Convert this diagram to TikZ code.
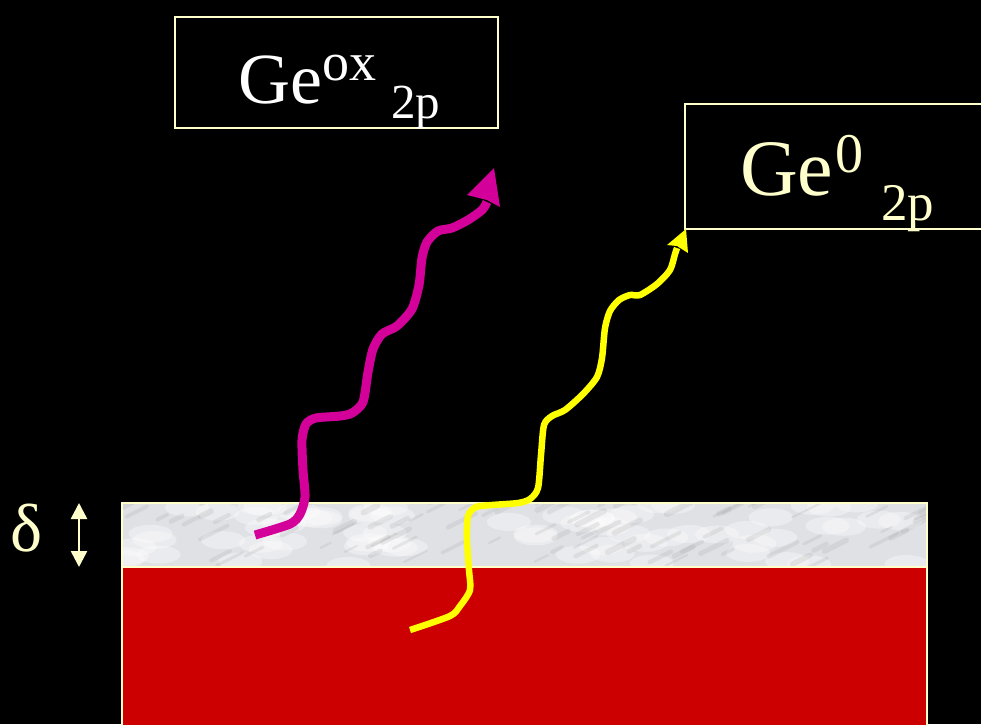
\documentclass[tikz,border=0pt]{standalone}
\usepackage{fontspec}
\setmainfont{Liberation Serif}
\usetikzlibrary{arrows.meta}
\definecolor{cream}{HTML}{FFFFCC}
\definecolor{magentaw}{HTML}{D4009A}
\definecolor{yelw}{HTML}{FFFF00}
\definecolor{redsub}{HTML}{CC0000}
\definecolor{marble}{HTML}{DFE1E5}
\tikzset{
  labelbox/.style={draw=cream, line width=2.5pt},
  wave/.style={line width=#1, line cap=butt, line join=round},
}
\begin{document}
\begin{tikzpicture}[x=1pt,y=-1pt]
\useasboundingbox (0,0) rectangle (981,724);
\fill[black] (0,0) rectangle (981,724);
\clip (0,0) rectangle (981,724);

% substrate
\fill[redsub] (122,567) rectangle (927,730);
\fill[marble] (122,503) rectangle (927,567);
\begin{scope}
  \clip (122,503) rectangle (927,567);
  \pgfmathsetseed{11}
  \foreach \i in {1,...,70}{
    \pgfmathsetmacro{\xx}{122+805*rnd}
    \pgfmathsetmacro{\yy}{503+64*rnd}
    \fill[white, opacity=0.35] (\xx,\yy) ellipse (22 and 9);
  }
  \foreach \i in {1,...,90}{
    \pgfmathsetmacro{\xx}{122+805*rnd}
    \pgfmathsetmacro{\yy}{503+64*rnd}
    \pgfmathsetmacro{\ll}{10+20*rnd}
    \pgfmathsetmacro{\ww}{2+4*rnd}
    \draw[gray!80, opacity=0.18, line width=\ww pt, line cap=round]
      (\xx,\yy) -- ++(\ll,-0.5*\ll);
  }
\end{scope}
\draw[cream, line width=2.5pt] (122,503) rectangle (927,567);
\draw[cream, line width=2.5pt] (122,567) -- (122,730) (927,567) -- (927,730);

% delta
\node[anchor=base west, text=cream, inner sep=0pt, font=\fontsize{68}{68}\selectfont] (delta) at (10,551) {δ};
\coordinate (dtop) at (79,503);
\coordinate (dbot) at (79,567);
\draw[cream, line width=2.5pt, {Triangle[length=16pt,width=16pt]}-{Triangle[length=16pt,width=16pt]}] (dtop) -- (dbot);

% boxes
\draw[labelbox] (175,17) rectangle (498,128);
\node[anchor=base west, inner sep=0pt, text=white] (geox) at (238,103)
  {\fontsize{72}{72}\selectfont Ge\raisebox{23pt}{\fontsize{54}{54}\selectfont ox}\hspace{15pt}\raisebox{-15pt}{\fontsize{49}{49}\selectfont 2p}};

\draw[labelbox] (685,104) rectangle (995,229);
\coordinate (box2corner) at (686,229);
\node[anchor=base west, inner sep=0pt, text=cream] (ge0) at (740,195)
  {\fontsize{80}{80}\selectfont Ge\hspace{2pt}\raisebox{23pt}{\fontsize{56}{56}\selectfont 0}\hspace{18pt}\raisebox{-25pt}{\fontsize{53}{53}\selectfont 2p}};

% magenta wave
\coordinate (mstart) at (255,535);
\coordinate (mtip) at (494,168);
\draw[magentaw, wave=9pt] plot[smooth, tension=0.45] coordinates {
  (255,535) (290,524) (300,514) (305,497) (303,470) (302,440) (306,424)
  (316,418) (340,416) (352,413) (363,402) (368,372) (373,349) (382,334)
  (397,326) (412,309) (419,285) (422,258) (427,242) (438,231) (452,228)
  (468,220) (482,210) (487,202)};
\fill[magentaw] (mtip) -- (500,207) -- (487,200) -- (467,195) -- cycle;

% yellow wave
\coordinate (ystart) at (410,630);
\draw[yelw, wave=6.5pt] plot[smooth, tension=0.45] coordinates {
  (410,630) (450,616) (460,606) (470,590) (469,570) (467,540) (468,516)
  (476,507) (492,505) (518,503) (530,499) (538,488) (541,455) (544,425)
  (552,416) (565,410) (583,394) (597,377) (602,358) (605,328) (610,311)
  (619,300) (630,295) (640,295) (657,284) (670,270) (675,254) (677,248)};
\fill[yelw] (box2corner) -- (688,253) -- (677,246) -- (667,245) -- cycle;
\end{tikzpicture}
\end{document}
